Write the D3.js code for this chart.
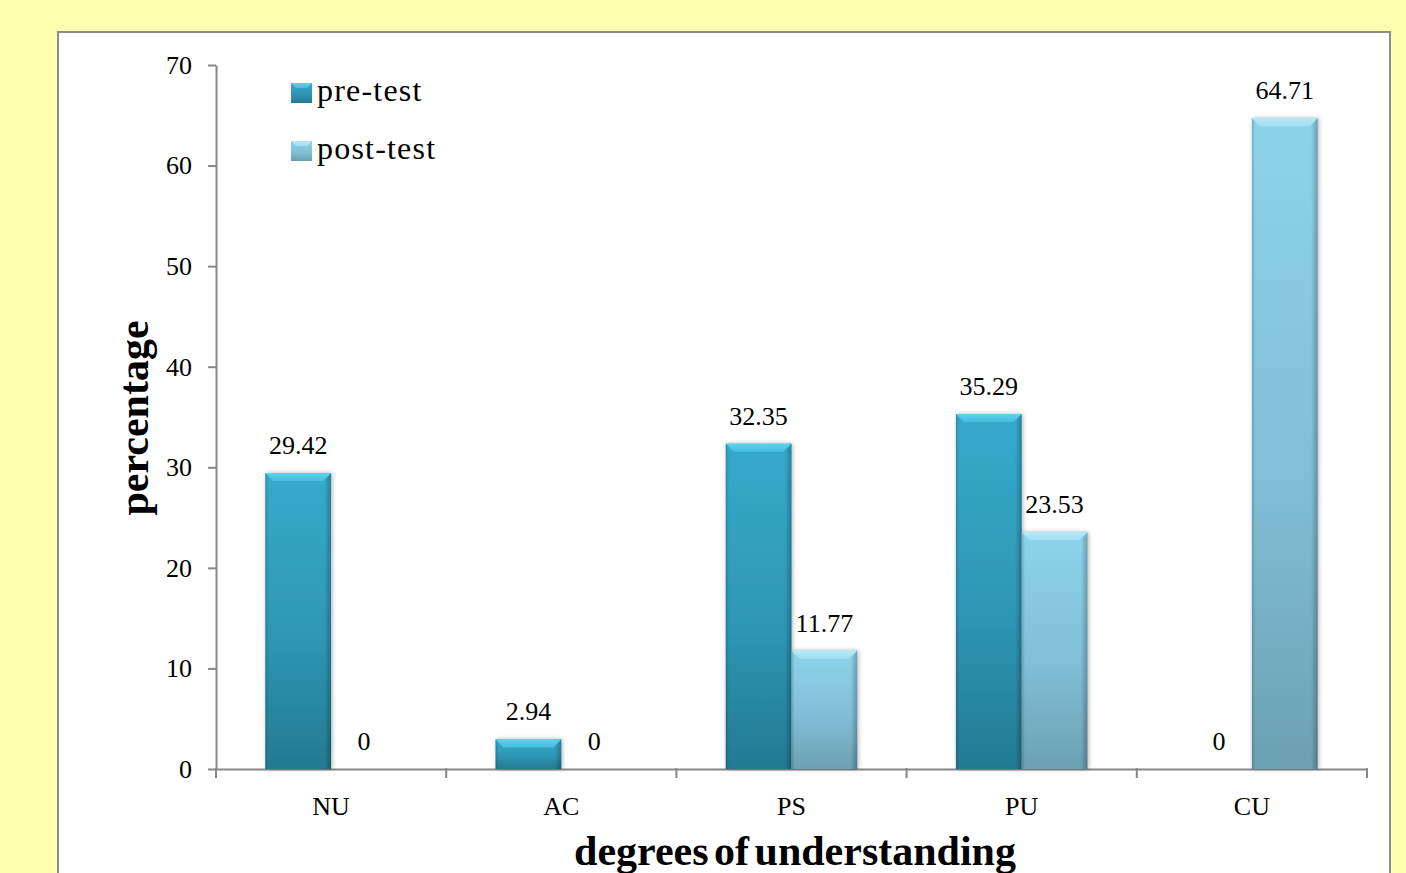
<!DOCTYPE html>
<html>
<head>
<meta charset="utf-8">
<script src="https://cdn.jsdelivr.net/npm/d3@7"></script>
<style>
  html, body { margin: 0; padding: 0; background: #FFFFAF; overflow: hidden; }
  text { font-family: "Liberation Serif", "Times New Roman", serif; fill: #000; }
</style>
</head>
<body>
<svg id="chart" width="1406" height="873"></svg>
<script>
// Percentage of students at each degree of understanding
const categories = ["NU", "AC", "PS", "PU", "CU"];
const seriesNames = ["pre-test", "post-test"];
const preTest = [29.42, 2.94, 32.35, 35.29, 0];
const postTest = [0, 0, 11.77, 23.53, 64.71];
const yTicks = [0, 10, 20, 30, 40, 50, 60, 70];
const yTitle = "percentage";
const xTitle = "degrees of understanding";

const rows = categories.map((c, i) => ({
  cat: c,
  values: [
    { key: seriesNames[0], v: preTest[i] },
    { key: seriesNames[1], v: postTest[i] }
  ]
}));

const svg = d3.select("#chart");
const defs = svg.append("defs");

// colour schemes for the two series: body gradient + bevel
const palette = {
  "pre-test":  { top: "#36AACB", mid: "#2E97B5", bottom: "#237A91", bevel: "#5ED1EC", bevelLow: "#45BEDD" },
  "post-test": { top: "#8DD3EB", mid: "#80BFD6", bottom: "#6CA0B3", bevel: "#B6EAF8", bevelLow: "#A2DFF1" }
};

Object.entries(palette).forEach(([k, p], i) => {
  const g = defs.append("linearGradient").attr("id", "body" + i)
    .attr("x1", 0).attr("y1", 0).attr("x2", 0).attr("y2", 1);
  g.append("stop").attr("offset", 0).attr("stop-color", p.top);
  g.append("stop").attr("offset", 0.55).attr("stop-color", p.mid);
  g.append("stop").attr("offset", 1).attr("stop-color", p.bottom);
  const b = defs.append("linearGradient").attr("id", "bevel" + i)
    .attr("x1", 0).attr("y1", 0).attr("x2", 0).attr("y2", 1);
  b.append("stop").attr("offset", 0).attr("stop-color", p.bevel);
  b.append("stop").attr("offset", 1).attr("stop-color", p.bevelLow);
});

// darker vertical edges on every bar
const side = defs.append("linearGradient").attr("id", "sides")
  .attr("x1", 0).attr("y1", 0).attr("x2", 1).attr("y2", 0);
side.append("stop").attr("offset", 0).attr("stop-color", "#000").attr("stop-opacity", 0.18);
side.append("stop").attr("offset", 0.05).attr("stop-color", "#000").attr("stop-opacity", 0.0);
side.append("stop").attr("offset", 0.9).attr("stop-color", "#000").attr("stop-opacity", 0.0);
side.append("stop").attr("offset", 1).attr("stop-color", "#000").attr("stop-opacity", 0.25);

const shadow = defs.append("filter").attr("id", "shadow")
  .attr("x", "-20%").attr("y", "-20%").attr("width", "140%").attr("height", "140%");
shadow.append("feDropShadow").attr("dx", 1).attr("dy", 0).attr("stdDeviation", 2)
  .attr("flood-color", "#000").attr("flood-opacity", 0.3);

// white plot frame
svg.append("rect")
  .attr("x", 58).attr("y", 32).attr("width", 1332).attr("height", 900)
  .attr("fill", "#fff").attr("stroke", "#8C8C8C").attr("stroke-width", 2);

// scales
const x0 = d3.scaleBand().domain(categories).range([216, 1367]).padding(0);
const x1 = d3.scaleBand().domain(seriesNames).range([0, x0.bandwidth()])
  .paddingInner(0).paddingOuter(0.75);
const y = d3.scaleLinear().domain([0, 70]).range([769, 65]);

// y axis
const yAxis = svg.append("g").attr("transform", "translate(216,0)")
  .call(d3.axisLeft(y).tickValues(yTicks).tickSize(8).tickSizeOuter(0).tickPadding(16));
yAxis.select(".domain").attr("stroke", "#878787").attr("stroke-width", 2);
yAxis.selectAll(".tick line").attr("stroke", "#878787").attr("stroke-width", 2);
yAxis.selectAll(".tick text").attr("font-size", 26).attr("font-family", null).attr("fill", "#000");

// x axis: labels at category centres, ticks on category boundaries
const xAxis = svg.append("g").attr("transform", "translate(0,769)")
  .call(d3.axisBottom(x0).tickSize(0).tickSizeOuter(0).tickPadding(28));
xAxis.select(".domain").attr("stroke", "#878787").attr("stroke-width", 2);
xAxis.selectAll(".tick text").attr("font-size", 26).attr("font-family", null).attr("fill", "#000");

const bounds = categories.map(c => x0(c)).concat([x0.range()[1]]);
svg.append("g").selectAll("line.bound").data(bounds).join("line")
  .attr("x1", d => d).attr("x2", d => d)
  .attr("y1", 768).attr("y2", 778)
  .attr("stroke", "#878787").attr("stroke-width", 2);

// bars
const bevelSize = 8;
const groups = svg.append("g").selectAll("g.cat").data(rows).join("g")
  .attr("transform", d => `translate(${x0(d.cat)},0)`);

groups.each(function (row) {
  const g = d3.select(this);
  row.values.forEach((d, si) => {
    const bx = x1(d.key), bw = x1.bandwidth();
    const top = y(d.v), h = y(0) - top;
    if (d.v > 0) {
      const bar = g.append("g").attr("filter", "url(#shadow)");
      bar.append("rect").attr("x", bx).attr("y", top).attr("width", bw).attr("height", h)
        .attr("fill", `url(#body${si})`);
      bar.append("rect").attr("x", bx).attr("y", top).attr("width", bw).attr("height", h)
        .attr("fill", "url(#sides)");
      const b = Math.min(bevelSize, h);
      bar.append("polygon")
        .attr("points", [[bx, top], [bx + bw, top], [bx + bw - b, top + b], [bx + b, top + b]]
          .map(p => p.join(",")).join(" "))
        .attr("fill", `url(#bevel${si})`);
    }
    g.append("text")
      .attr("x", bx + bw / 2).attr("y", top - 19)
      .attr("text-anchor", "middle").attr("font-size", 26)
      .text(d3.format("~f")(d.v));
  });
});

// legend
const legend = svg.append("g");
seriesNames.forEach((name, i) => {
  const ly = 83 + i * 58;
  legend.append("rect").attr("x", 291).attr("y", ly).attr("width", 21).attr("height", 20)
    .attr("fill", `url(#body${i})`);
  legend.append("polygon")
    .attr("points", [[291, ly], [312, ly], [307, ly + 5], [296, ly + 5]].map(p => p.join(",")).join(" "))
    .attr("fill", `url(#bevel${i})`);
  legend.append("text").attr("x", 317).attr("y", ly + 18).attr("font-size", 32)
    .attr("letter-spacing", 1.2).text(name);
});

// axis titles
svg.append("text")
  .attr("transform", "translate(148,418) rotate(-90)")
  .attr("text-anchor", "middle").attr("font-size", 42).attr("font-weight", "bold")
  .text(yTitle);
svg.append("text")
  .attr("x", 795).attr("y", 865)
  .attr("text-anchor", "middle").attr("font-size", 42).attr("font-weight", "bold")
  .attr("word-spacing", -5)
  .text(xTitle);
</script>
</body>
</html>
